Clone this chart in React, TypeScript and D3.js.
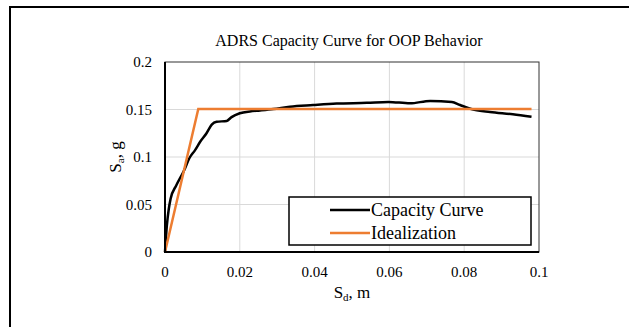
import React, { useRef, useEffect } from "react";
import * as d3 from "d3";

const capacitySd = [0, 0.0005, 0.001, 0.0015, 0.003, 0.005, 0.0067, 0.008, 0.0094, 0.0111, 0.0125, 0.0138, 0.0165, 0.0178, 0.02, 0.0227, 0.0254, 0.029, 0.0334, 0.0396, 0.0459, 0.054, 0.0597, 0.0655, 0.0709, 0.0767, 0.0789, 0.0824, 0.0869, 0.093, 0.098];
const capacitySa = [0, 0.028, 0.045, 0.056, 0.07, 0.085, 0.1, 0.107, 0.116, 0.125, 0.134, 0.137, 0.138, 0.142, 0.146, 0.148, 0.149, 0.1505, 0.153, 0.1547, 0.1562, 0.157, 0.158, 0.1565, 0.159, 0.158, 0.1547, 0.15, 0.1474, 0.145, 0.1424];

const idealSd = [0, 0.0089, 0.098];
const idealSa = [0, 0.1505, 0.1505];

const xTicks = [0, 0.02, 0.04, 0.06, 0.08, 0.1];
const yTicks = [0, 0.05, 0.1, 0.15, 0.2];

const seriesNames = ["Capacity Curve", "Idealization"];
const seriesColors = ["#000000", "#ED7D31"];

export default function App() {
  const svgRef = useRef<SVGSVGElement>(null);

  useEffect(() => {
    const svg = d3.select(svgRef.current);
    svg.selectAll("*").remove();

    const font = "'Liberation Serif', serif";
    const left = 165, right = 539, top = 62, bottom = 252;

    const x = d3.scaleLinear().domain([0, 0.1]).range([left, right]);
    const y = d3.scaleLinear().domain([0, 0.2]).range([bottom, top]);

    svg.append("rect")
      .attr("x", 10).attr("y", 7).attr("width", 700).attr("height", 400)
      .attr("fill", "white").attr("stroke", "black").attr("stroke-width", 2);

    // grid
    svg.append("g").selectAll("line")
      .data(xTicks.slice(1, -1))
      .join("line")
      .attr("x1", d => x(d)).attr("x2", d => x(d))
      .attr("y1", top).attr("y2", bottom)
      .attr("stroke", "#d9d9d9").attr("stroke-width", 1);
    svg.append("g").selectAll("line")
      .data(yTicks.slice(1, -1))
      .join("line")
      .attr("x1", left).attr("x2", right)
      .attr("y1", d => y(d)).attr("y2", d => y(d))
      .attr("stroke", "#d9d9d9").attr("stroke-width", 1);

    // plot border
    svg.append("rect")
      .attr("x", left).attr("y", top).attr("width", right - left).attr("height", bottom - top)
      .attr("fill", "none").attr("stroke", "#333").attr("stroke-width", 1);

    const line = d3.line<[number, number]>().x(d => x(d[0])).y(d => y(d[1]));

    const capacity = capacitySd.map((d, i) => [d, capacitySa[i]] as [number, number]);
    const ideal = idealSd.map((d, i) => [d, idealSa[i]] as [number, number]);

    svg.append("path")
      .datum(capacity)
      .attr("d", line.curve(d3.curveMonotoneX))
      .attr("fill", "none").attr("stroke", seriesColors[0]).attr("stroke-width", 2.5)
      .attr("stroke-linejoin", "round");

    svg.append("path")
      .datum(ideal)
      .attr("d", line.curve(d3.curveLinear))
      .attr("fill", "none").attr("stroke", seriesColors[1]).attr("stroke-width", 2.5);

    // axes lines
    svg.append("line")
      .attr("x1", left).attr("x2", left).attr("y1", top).attr("y2", bottom + 1)
      .attr("stroke", "black").attr("stroke-width", 2);
    svg.append("line")
      .attr("x1", left - 1).attr("x2", right).attr("y1", bottom).attr("y2", bottom)
      .attr("stroke", "black").attr("stroke-width", 2);

    svg.append("g").selectAll("text")
      .data(yTicks)
      .join("text")
      .attr("x", 152).attr("y", d => y(d)).attr("dy", "0.35em")
      .attr("text-anchor", "end")
      .style("font-family", font).style("font-size", "15px")
      .text(d => String(d));

    svg.append("g").selectAll("text")
      .data(xTicks)
      .join("text")
      .attr("x", d => x(d)).attr("y", 277)
      .attr("text-anchor", "middle")
      .style("font-family", font).style("font-size", "15px")
      .text(d => String(d));

    svg.append("text")
      .attr("x", 349).attr("y", 46)
      .attr("text-anchor", "middle")
      .style("font-family", font).style("font-size", "16px")
      .text("ADRS Capacity Curve for OOP Behavior");

    const xl = svg.append("text")
      .attr("x", 352).attr("y", 298)
      .attr("text-anchor", "middle")
      .style("font-family", font).style("font-size", "17px");
    xl.append("tspan").text("S");
    xl.append("tspan").attr("dy", 3).style("font-size", "11px").text("d");
    xl.append("tspan").attr("dy", -3).text(", m");

    const yl = svg.append("text")
      .attr("transform", `translate(121,${(top + bottom) / 2}) rotate(-90)`)
      .attr("text-anchor", "middle")
      .style("font-family", font).style("font-size", "17px");
    yl.append("tspan").text("S");
    yl.append("tspan").attr("dy", 3).style("font-size", "11px").text("a");
    yl.append("tspan").attr("dy", -3).text(", g");

    // legend
    const lg = svg.append("g");
    lg.append("rect")
      .attr("x", 289).attr("y", 197).attr("width", 242).attr("height", 48)
      .attr("fill", "white").attr("stroke", "black").attr("stroke-width", 1.5);
    seriesNames.forEach((name, i) => {
      const yy = 210 + i * 23;
      lg.append("line")
        .attr("x1", 330).attr("x2", 370).attr("y1", yy).attr("y2", yy)
        .attr("stroke", seriesColors[i]).attr("stroke-width", 2.5);
      lg.append("text")
        .attr("x", 371).attr("y", yy).attr("dy", "0.35em")
        .style("font-family", font).style("font-size", "18px")
        .text(name);
    });
  }, []);

  return (
    <svg ref={svgRef} width={629} height={327}
      style={{ position: "absolute", left: 0, top: 0, background: "white" }} />
  );
}
